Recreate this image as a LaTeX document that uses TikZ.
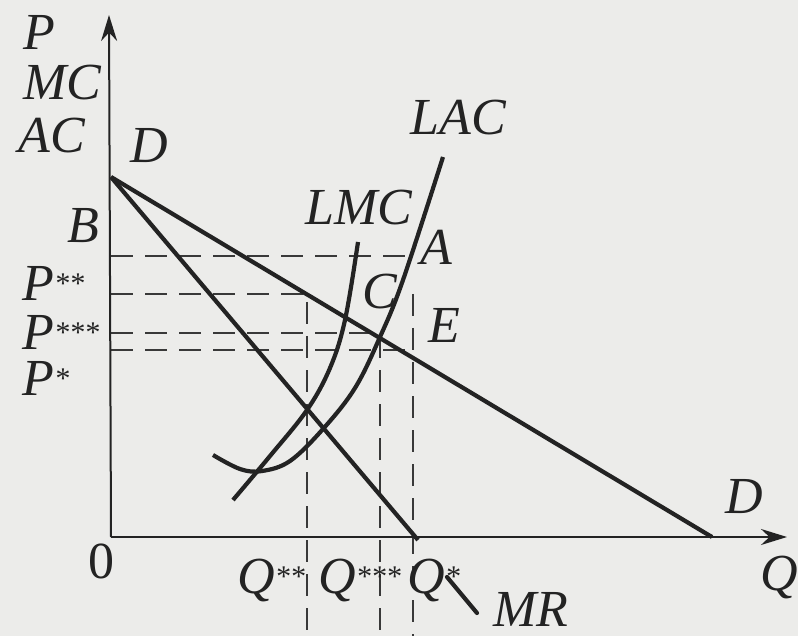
\documentclass[tikz,border=0pt]{standalone}
\usepackage{fontspec}
\setmainfont{Liberation Serif}
\usetikzlibrary{arrows.meta}
\definecolor{paper}{RGB}{236,236,234}
\definecolor{ink}{RGB}{35,35,35}
\newcommand{\stars}[1]{\raisebox{3.5pt}{\fontsize{15}{15}\selectfont#1}}

\begin{document}
\begin{tikzpicture}[x=0.5pt, y=-0.5pt,
    curve/.style={draw=ink, line width=2.1pt},
    axis/.style={draw=ink, line width=1pt, -{Stealth[length=13pt, width=8pt]}},
    guide/.style={draw=ink!90, line width=1.2pt, dash pattern=on 11pt off 6pt},
    lbl/.style={font=\fontsize{26}{30}\selectfont\itshape, text=ink, inner sep=0pt, anchor=base west}]

    % paper
    \fill[paper] (0,0) rectangle (798,636);
    \useasboundingbox (0,0) rectangle (798,636);

    % key points
    \coordinate (O) at (111,537);
    \coordinate (ytip) at (109,15);
    \coordinate (xtip) at (787,537);
    \coordinate (Dtop) at (111,177);
    \coordinate (Dend) at (712,537);
    \coordinate (MRend) at (418,540);
    \coordinate (A) at (411,256);
    \coordinate (Bax) at (111,256);
    \coordinate (Pss) at (111,294);
    \coordinate (Psss) at (111,333);
    \coordinate (Ps) at (111,350);
    \coordinate (Qss) at (307,294);
    \coordinate (Qsss) at (380,333);
    \coordinate (Qs) at (413,350);
    \coordinate (Qstop) at (413,294);
    \coordinate (Qssbot) at (307,636);
    \coordinate (Qsssbot) at (380,636);
    \coordinate (Qsbot) at (413,636);
    \coordinate (mrtail) at (447,577);
    \coordinate (mrhead) at (477,613);

    % dashed guides
    \draw[guide] (Bax) -- (A);
    \draw[guide] (Pss) -- (Qss) -- (Qssbot);
    \draw[guide] (Psss) -- (Qsss) -- (Qsssbot);
    \draw[guide] (Ps) -- (Qs);
    \draw[guide] (Qstop) -- (Qsbot);

    % axes
    \draw[axis] (O) -- (ytip);
    \draw[axis] (O) -- (xtip);

    % demand and MR
    \draw[curve] (Dtop) -- (Dend);
    \draw[curve] (Dtop) -- (MRend);
    \draw[curve, line cap=round] (mrtail) -- (mrhead);

    % cost curves
    \draw[curve] plot[smooth, tension=0.6] coordinates {(233,500) (270,456) (307,410) (330,368) (345,320) (358,242)};
    \draw[curve] plot[smooth, tension=0.6] coordinates {(213,455) (240,469) (262,471) (290,461) (323,429) (355,388) (380,337) (403,280) (443,157)};

    % labels
    \node[lbl] (pl) at (23,50) {P};
    \node[lbl] (mcl) at (23,100) {MC};
    \node[lbl] (acl) at (18,153) {AC};
    \node[lbl] (dtop) at (130,163) {D};
    \node[lbl] (bl) at (67,243) {B};
    \node[lbl] (p2) at (22,300) {P\stars{**}};
    \node[lbl] (p3) at (22,350) {P\stars{***}};
    \node[lbl] (p1) at (22,395) {P\stars{*}};
    \node[lbl] (lacl) at (410,135) {LAC};
    \node[lbl] (lmcl) at (305,225) {LMC};
    \node[lbl] (al) at (420,265) {A};
    \node[lbl] (cl) at (362,308) {C};
    \node[lbl] (el) at (428,343) {E};
    \node[lbl] (dbot) at (725,513) {D};
    \node[lbl] (ql) at (760,590) {Q};
    \node[lbl, font=\fontsize{26}{30}\selectfont\upshape] (zl) at (88,578) {0};
    \node[lbl] (q2) at (237,593) {Q\stars{**}};
    \node[lbl] (q3) at (318,593) {Q\stars{***}};
    \node[lbl] (q1) at (407,593) {Q\stars{*}};
    \node[lbl] (mrl) at (493,626) {MR};
\end{tikzpicture}
\end{document}
